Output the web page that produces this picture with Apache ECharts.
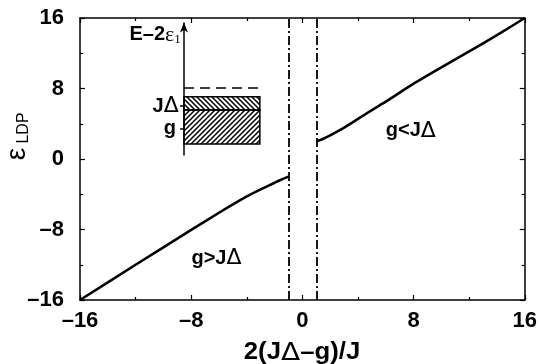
<!DOCTYPE html>
<html><head><meta charset="utf-8">
<script src="https://cdn.jsdelivr.net/npm/echarts@6/dist/echarts.min.js"></script>
<style>html,body{margin:0;padding:0;background:#fff}#c{width:540px;height:364px}</style>
</head><body><div id="c"></div>
<script>
// ---- data ----
const lowerX = [-16, -12, -8, -6, -4, -3, -2, -1.5, -1];
const lowerY = [-16, -12, -8.05, -6.1, -4.25, -3.45, -2.7, -2.33, -2.0];
const upperX = [1, 1.5, 2, 2.5, 3, 4, 5, 6, 8, 10, 12, 14, 16];
const upperY = [2.0, 2.3, 2.68, 3.1, 3.55, 4.55, 5.55, 6.5, 8.55, 10.4, 12.2, 14.05, 16.0];
const boundaryX = [-1, 1];            // dash-dot vertical lines
// inset (energy diagram) values
const insetX = [-8.52, -3.06];        // inset axis x, box right edge
const insetArrowY = [0.4, 15.5];
const insetDashY = 8.1;
const bandGY = [1.7, 5.56];           // lower hatched band
const bandJY = [5.56, 7.07];          // upper hatched band
const insetTickY = [6.0, 3.48];       // JΔ, g ticks
const annotations = [
  {text: 'g<J', x: 7.8, y: 3.18, align: 'center'},
  {text: 'g>J', x: -6.18, y: -11.29, align: 'center'},
  {text: 'J', x: -8.9, y: 5.95, align: 'right'},
  {text: 'g', x: -9.1, y: 3.5, align: 'right'}
];

function zip(a, b) { return a.map((v, i) => [v, b[i]]); }
function hatch(rising) {
  const c = document.createElement('canvas');
  c.width = c.height = 5;
  const g = c.getContext('2d');
  g.strokeStyle = '#000'; g.lineWidth = 1.5; g.beginPath();
  if (rising) {
    g.moveTo(-1, 6); g.lineTo(6, -1);
    g.moveTo(-1, 1); g.lineTo(1, -1);
    g.moveTo(4, 6); g.lineTo(6, 4);
  } else {
    g.moveTo(-1, -1); g.lineTo(6, 6);
    g.moveTo(4, -1); g.lineTo(6, 1);
    g.moveTo(-1, 4); g.lineTo(1, 6);
  }
  g.stroke();
  return c;
}
const FONT = 'Liberation Sans, Arial, sans-serif';
const fmt = v => (v < 0 ? '\u2013' + (-v) : '' + v);
function axisCommon(showLabel) {
  return {
    type: 'value', min: -16, max: 16, interval: 8,
    axisLine: {onZero: false, lineStyle: {color: '#000', width: 1.5}},
    axisTick: {show: true, inside: true, length: 5, lineStyle: {color: '#000', width: 1.2}},
    minorTick: {show: true, splitNumber: 2, length: 3, lineStyle: {color: '#000', width: 1.2}},
    splitLine: {show: false}, minorSplitLine: {show: false},
    axisLabel: {show: showLabel, formatter: fmt, color: '#000', fontFamily: FONT, fontWeight: 'bold', fontSize: 22}
  };
}
const chart = echarts.init(document.getElementById('c'), null, {renderer: 'canvas'});
const lineBase = {type: 'line', showSymbol: false, symbol: 'none', silent: true, animation: false,
  lineStyle: {color: '#000', width: 2.6}, smooth: 0.2};
chart.setOption({
  animation: false,
  grid: {left: 80, right: 15, top: 18, bottom: 64},
  xAxis: [
    Object.assign(axisCommon(true), {position: 'bottom',
      axisLabel: Object.assign(axisCommon(true).axisLabel, {margin: 10})}),
    Object.assign(axisCommon(false), {position: 'top'})
  ],
  yAxis: [
    Object.assign(axisCommon(true), {position: 'left',
      axisLabel: Object.assign(axisCommon(true).axisLabel, {margin: 16})}),
    Object.assign(axisCommon(false), {position: 'right'})
  ],
  series: [
    Object.assign({}, lineBase, {data: zip(lowerX, lowerY)}),
    Object.assign({}, lineBase, {data: zip(upperX, upperY)}),
    {type: 'line', data: [], silent: true,
      markLine: {silent: true, symbol: 'none', label: {show: false},
        lineStyle: {color: '#000', width: 1.8, type: [9, 3, 2, 3]},
        data: boundaryX.map(v => ({xAxis: v}))}},
    {type: 'line', data: [], silent: true,
      markArea: {silent: true, label: {show: false},
        data: [
          [{coord: [insetX[0], bandGY[0]], itemStyle: {color: {image: hatch(true), repeat: 'repeat'}, borderColor: '#000', borderWidth: 1.5}},
           {coord: [insetX[1], bandGY[1]]}],
          [{coord: [insetX[0], bandJY[0]], itemStyle: {color: {image: hatch(false), repeat: 'repeat'}, borderColor: '#000', borderWidth: 1.5}},
           {coord: [insetX[1], bandJY[1]]}]
        ]},
      markLine: {silent: true, label: {show: false}, symbol: 'none',
        lineStyle: {color: '#000', width: 1.5, type: 'solid'},
        data: [
          [{coord: [insetX[0], insetDashY], lineStyle: {type: [10, 6], width: 1.5, color: '#000'}}, {coord: [insetX[1], insetDashY]}],
          [{coord: [insetX[0], insetArrowY[0]], symbol: 'none'}, {coord: [insetX[0], insetArrowY[1]], symbol: 'arrow', symbolSize: [6, 10]}],
          [{coord: [-8.8, insetTickY[0]]}, {coord: [insetX[0], insetTickY[0]]}],
          [{coord: [-8.8, insetTickY[1]]}, {coord: [insetX[0], insetTickY[1]]}]
        ]}}
  ]
});

// text annotations placed via the chart's own scales
const richBase = {
  t: {fontFamily: FONT, fontWeight: 'bold', fontSize: 20, color: '#000'},
  d: {fontFamily: 'DejaVu Sans, sans-serif', fontSize: 22, color: '#000'}
};
const gfx = annotations.map(a => {
  const p = chart.convertToPixel({xAxisIndex: 0, yAxisIndex: 0}, [a.x, a.y]);
  const txt = a.text === 'g' ? '{t|g}' : '{t|' + a.text + '}{d|Δ}';
  return {type: 'text', x: p[0], y: p[1], silent: true,
    style: {text: txt, rich: richBase, textAlign: a.align, textVerticalAlign: 'middle'}};
});
const ep = chart.convertToPixel({xAxisIndex: 0, yAxisIndex: 0}, [-8.75, 14.1]);
gfx.push({type: 'text', x: ep[0], y: ep[1], silent: true,
  style: {text: '{a|E\u20132}{b|ε}{c|1}', textAlign: 'right', textVerticalAlign: 'middle',
    rich: {a: {fontFamily: FONT, fontWeight: 'bold', fontSize: 20, color: '#000'},
           b: {fontFamily: 'Liberation Serif, serif', fontSize: 22, color: '#000'},
           c: {fontFamily: 'Liberation Serif, serif', fontSize: 13, color: '#000', padding: [9, 0, 0, 0]}}}});
// x-axis title
gfx.push({type: 'text', x: 302, y: 353, scaleX: 1.12, silent: true,
  style: {text: '{t|2(J}{d|Δ}{t|\u2013g)/J}', textAlign: 'center', textVerticalAlign: 'middle',
    rich: {t: {fontFamily: FONT, fontWeight: 'bold', fontSize: 23, color: '#000'},
           d: {fontFamily: 'DejaVu Sans, sans-serif', fontSize: 25, color: '#000'}}}});
// y-axis title
gfx.push({type: 'text', x: 17, y: 154, rotation: Math.PI / 2, silent: true,
  style: {text: 'ε', fill: '#000', font: '28px ' + FONT, textAlign: 'center', textVerticalAlign: 'middle'}});
gfx.push({type: 'text', x: 24, y: 128, rotation: Math.PI / 2, silent: true,
  style: {text: 'LDP', fill: '#000', font: '16px ' + FONT, textAlign: 'center', textVerticalAlign: 'middle'}});
chart.setOption({graphic: gfx});
</script></body></html>
